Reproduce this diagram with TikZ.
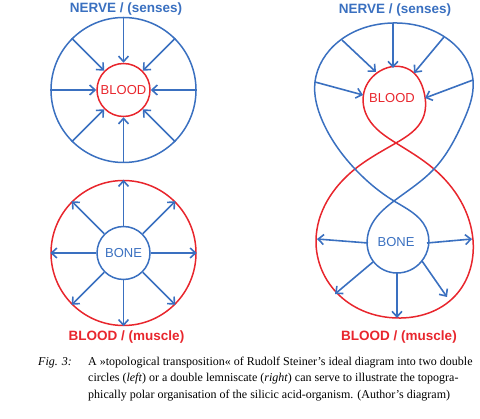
\documentclass[tikz,border=0pt]{standalone}
\usepackage{fontspec}
\setmainfont{Liberation Serif}
\newfontfamily\labelfont{Liberation Sans}
\usetikzlibrary{arrows.meta, hobby}
\definecolor{nerveblue}{RGB}{58,112,192}
\definecolor{bloodred}{RGB}{232,38,45}

\begin{document}
\begin{tikzpicture}[
    x=1pt, y=-1pt,
    title/.style={font=\labelfont\bfseries\fontsize{13.5}{16}\selectfont, anchor=base},
    innerring/.style={draw, circle, line width=1.5pt, inner sep=0pt, minimum size=53pt,
                font=\labelfont\fontsize{13}{15}\selectfont},
    outerring/.style={draw, circle, line width=1.5pt, inner sep=0pt, minimum size=145pt},
    lemniscate/.style={line width=1.5pt},
    arrow/.style={-{Straight Barb[length=5.5pt, width=10pt]}, line width=1.6pt, draw=nerveblue},
    inlabel/.style={font=\labelfont\fontsize{13}{15}\selectfont, anchor=base}
]
\useasboundingbox (0,0) rectangle (480,419);

%--------
% LEFT: two double circles
%--------
\node[title, text=nerveblue] (nerveA) at (126,12.5) {NERVE / (senses)};
\node[outerring, draw=nerveblue] (outerA) at (123.5,90) {};
\node[innerring, draw=bloodred, text=bloodred] (bloodA) at (123.5,90) {BLOOD};
\foreach \a in {0,45,...,315}
    \draw[arrow] (outerA.\a) -- (bloodA.\a);

\node[outerring, draw=bloodred] (outerB) at (123.5,253) {};
\node[innerring, draw=nerveblue, text=nerveblue] (boneA) at (123.5,253) {BONE};
\foreach \a in {0,45,...,315}
    \draw[arrow] (boneA.\a) -- (outerB.\a);
\node[title, text=bloodred] (muscleA) at (126.5,341) {BLOOD / (muscle)};

%--------
% RIGHT: double lemniscate
%--------
\node[title, text=nerveblue] (nerveB) at (395,13.3) {NERVE / (senses)};

% red: small upper loop, big lower loop
\draw[lemniscate, bloodred] plot[closed hobby] coordinates {
    (396,143) (368,118) (364,92) (380,71) (410,70) (424,92) (423,118)
    (396,143) (355,169) (316,240) (340,296) (397,318) (455,296) (473,240)
    (434,169)};

% blue: big upper loop, small lower loop
\draw[lemniscate, nerveblue] plot[closed hobby] coordinates {
    (394,201) (355,169) (322,120) (315,82) (338,42) (393,23) (449,40)
    (473,80) (463,122) (434,169)
    (394,201) (370,228) (373,261) (397,273) (421,262) (426,228)};

\node[inlabel, text=bloodred] (bloodB) at (392,103) {BLOOD};
\node[inlabel, text=nerveblue] (boneB) at (396,247) {BONE};

% arrows in
\foreach \xa/\ya/\xb/\yb in {393/23/393/68, 342/40/376/72, 444/37/414/73,
                             315/82/363/95, 473/80/425/98}
    \draw[arrow] (\xa,\ya) -- (\xb,\yb);
% arrows out
\foreach \xa/\ya/\xb/\yb in {368/243/317/239, 427/243/472/239, 373/262/335/294,
                             397/273/397/318, 422/261/447/297}
    \draw[arrow] (\xa,\ya) -- (\xb,\yb);

\node[title, text=bloodred] (muscleB) at (399,341) {BLOOD / (muscle)};

%--------
% caption
%--------
\node[anchor=north west, inner sep=0pt, font=\fontsize{12}{16.5}\selectfont] (caption) at (38,353.5) {%
\begin{tabular}{@{}p{50pt}@{}l@{}}
\textit{Fig. 3:} & A »topological transposition« of Rudolf Steiner’s ideal diagram into two double\\
 & circles (\textit{left}) or a double lemniscate (\textit{right}) can serve to illustrate the topogra-\\
 & phically polar organisation of the silicic acid-organism. (Author’s diagram)
\end{tabular}};

\end{tikzpicture}
\end{document}
